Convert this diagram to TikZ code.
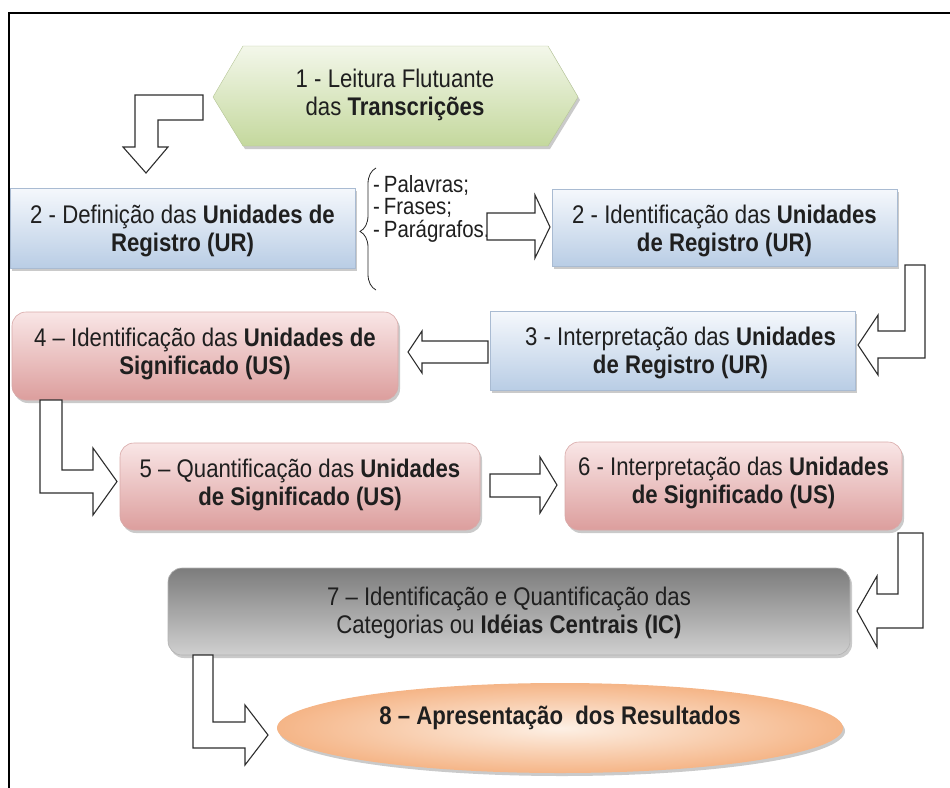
\documentclass[tikz,border=0pt]{standalone}
\usepackage{fontspec}
\setmainfont{Liberation Sans}[FakeStretch=0.87]
\usetikzlibrary{shadows,shapes.geometric,decorations.pathreplacing}

\definecolor{bluetop}{HTML}{F5F8FC}
\definecolor{bluebot}{HTML}{B9CDE5}
\definecolor{blueedge}{HTML}{A9BBD2}
\definecolor{redtop}{HTML}{F9E6E6}
\definecolor{redbot}{HTML}{DC9E9D}
\definecolor{rededge}{HTML}{D8A9A8}
\definecolor{greentop}{HTML}{F3F7EA}
\definecolor{greenbot}{HTML}{C4D89D}
\definecolor{graytop}{HTML}{7C7C7C}
\definecolor{graybot}{HTML}{D0D0D0}
\definecolor{orin}{HTML}{FDF0E5}
\definecolor{orout}{HTML}{F5B587}
\definecolor{arrowedge}{HTML}{2E2E2E}

\begin{document}
\begin{tikzpicture}[x=1pt,y=-1pt,
  txt/.style={font=\fontsize{25.5}{28}\selectfont, align=center, text=black!88, inner sep=0pt},
  listtxt/.style={font=\fontsize{23.5}{23}\selectfont, anchor=west, text=black!88, inner sep=0pt},
  shad/.style={drop shadow={shadow xshift=2pt,shadow yshift=-3pt,opacity=0.35,fill=black!60}},
  boxbase/.style={shad, inner sep=0pt, line width=0.6pt},
  bluebox/.style={boxbase, draw=blueedge, top color=bluetop, bottom color=bluebot},
  redbox/.style={boxbase, draw=rededge, rounded corners=14pt, top color=redtop, bottom color=redbot},
  graybox/.style={boxbase, draw=gray!60, rounded corners=14pt, top color=graytop, bottom color=graybot},
  blockarrow/.style={draw=arrowedge, line width=1.1pt, fill=white, line join=miter}
]
\useasboundingbox (0,0) rectangle (950,787);

% frame
\draw[line width=2.2pt, black] (9,800) -- (9,13) -- (960,13);

% 1 - hexagon
\path[shad, top color=greentop, bottom color=greenbot, draw=greenbot!80!gray, line width=0.4pt]
  (213,97) -- (243,46) -- (548,46) -- (578,97) -- (548,146) -- (243,146) -- cycle;
\node[txt] (n1) at (395,95) {1 - Leitura Flutuante\\das \textbf{Transcrições}};

% boxes
\node[bluebox, minimum width=345pt, minimum height=80pt] (b2) at (182.5,228) {};
\node[bluebox, minimum width=345pt, minimum height=77pt] (b2b) at (724.5,227.5) {};
\node[bluebox, minimum width=365pt, minimum height=79pt] (b3) at (672.5,350.5) {};
\node[redbox, minimum width=386pt, minimum height=88pt] (b4) at (205,356) {};
\node[redbox, minimum width=360pt, minimum height=87pt] (b5) at (300,486.5) {};
\node[redbox, minimum width=337pt, minimum height=88pt] (b6) at (733.5,486) {};
\node[graybox, minimum width=682pt, minimum height=87pt] (b7) at (509,611.5) {};
\node[ellipse, shad, inner sep=0pt, minimum width=566pt, minimum height=90pt,
      inner color=orin, outer color=orout] (e8) at (560,728) {};

% box texts
\node[txt] (t2) at ([yshift=-3pt]b2.center) {2 - Definição das \textbf{Unidades de}\\\textbf{Registro (UR)}};
\node[txt] (t2b) at ([yshift=-3pt]b2b.center) {2 - Identificação das \textbf{Unidades}\\\textbf{de Registro (UR)}};
\node[txt] (t3) at ([xshift=8pt,yshift=-2pt]b3.center) {3 - Interpretação das \textbf{Unidades}\\\textbf{de Registro (UR)}};
\node[txt] (t4) at ([yshift=2pt]b4.center) {4 – Identificação das \textbf{Unidades de}\\\textbf{Significado (US)}};
\node[txt] (t5) at ([yshift=2pt]b5.center) {5 – Quantificação das \textbf{Unidades}\\\textbf{de Significado (US)}};
\node[txt] (t6) at ([yshift=3pt]b6.center) {6 - Interpretação das \textbf{Unidades}\\\textbf{de Significado (US)}};
\node[txt] (t7) at ([yshift=-1pt]b7.center) {7 – Identificação e Quantificação das\\Categorias ou \textbf{Idéias Centrais (IC)}};
\node[txt] (t8) at ([yshift=10pt]e8.center) {\textbf{8 – Apresentação\ \ dos Resultados}};

% brace and list
\draw[decorate, decoration={brace, amplitude=16pt, aspect=0.48}, line width=0.8pt, black!85]
  (376,290) -- (376,168);
\node[listtxt] (l1) at (373,185) {-\,Palavras;};
\node[listtxt] (l2) at (373,208) {-\,Frases;};
\node[listtxt] (l3) at (373,231) {-\,Parágrafos.};

% block arrows
% 1 -> 2
\path[blockarrow] (203,95) -- (203,120) -- (158,120) -- (158,147) -- (168,147) -- (146,173)
  -- (123,147) -- (135,147) -- (135,95) -- cycle;
% 2 -> 2b
\path[blockarrow] (487,213) -- (535,213) -- (535,195) -- (550,227) -- (535,258) -- (535,240)
  -- (487,240) -- cycle;
% 2b -> 3
\path[blockarrow] (905,265) -- (925,265) -- (925,358) -- (878,358) -- (878,375) -- (858,345)
  -- (878,315) -- (878,331) -- (905,331) -- cycle;
% 3 -> 4
\path[blockarrow] (488,341) -- (422,341) -- (422,331) -- (408,352) -- (422,373) -- (422,363)
  -- (488,363) -- cycle;
% 4 -> 5
\path[blockarrow] (40,400) -- (62,400) -- (62,470) -- (93,470) -- (93,448) -- (117,481.5)
  -- (93,515) -- (93,493) -- (40,493) -- cycle;
% 5 -> 6
\path[blockarrow] (490,474) -- (540,474) -- (540,457) -- (557,485) -- (540,513) -- (540,497)
  -- (490,497) -- cycle;
% 6 -> 7
\path[blockarrow] (898,533) -- (923,533) -- (923,628) -- (877,628) -- (877,647) -- (857,611)
  -- (877,576) -- (877,594) -- (898,594) -- cycle;
% 7 -> 8
\path[blockarrow] (193,655) -- (213,655) -- (213,722) -- (245,722) -- (245,705) -- (268,735)
  -- (245,765) -- (245,748) -- (193,748) -- cycle;
\end{tikzpicture}
\end{document}
